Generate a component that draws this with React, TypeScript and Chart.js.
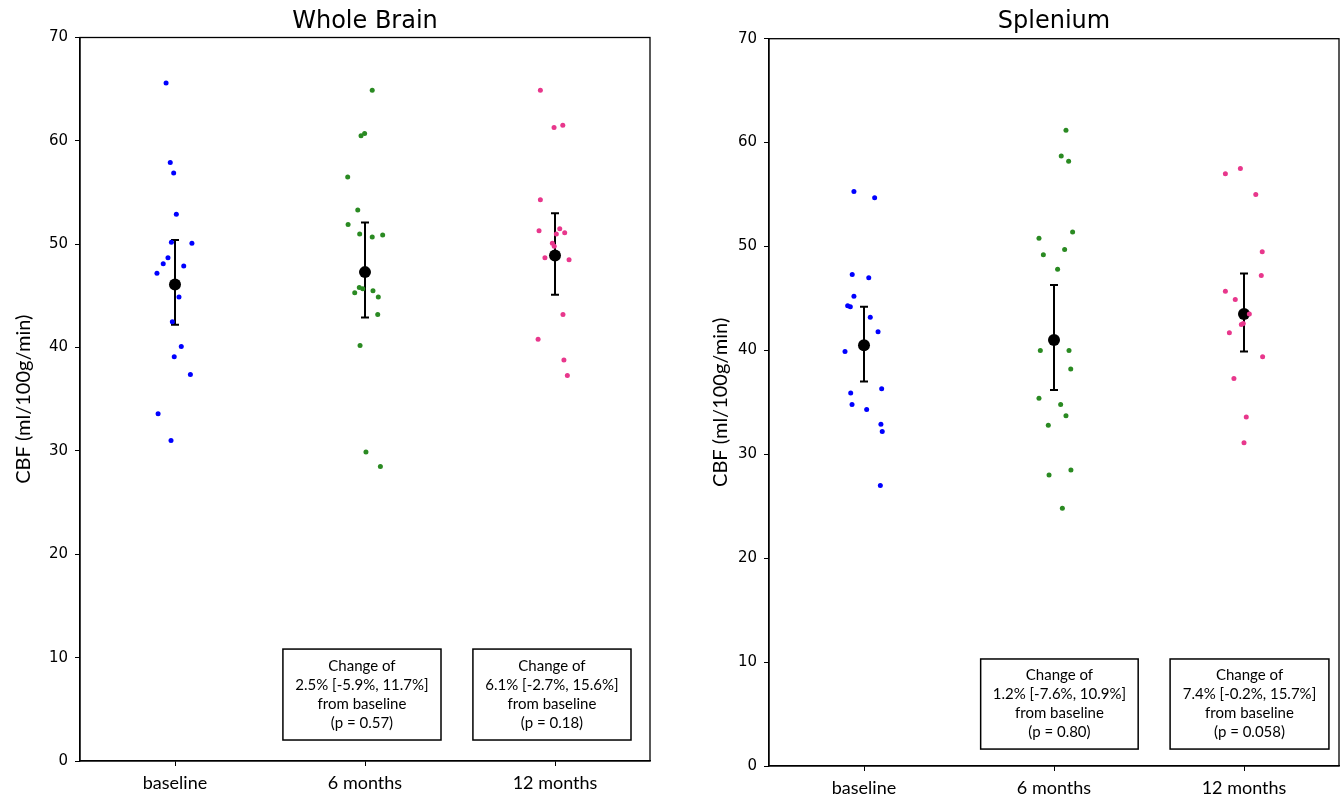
import React, { useEffect, useRef } from "react";
import { Chart, registerables } from "chart.js";
Chart.register(...registerables);

const categories = ["baseline", "6 months", "12 months"];
const yTickValues = [0, 10, 20, 30, 40, 50, 60, 70];
const yAxisLabel = "CBF (ml/100g/min)";

// ---- Whole Brain ----
const wbBaseline = [65.6, 57.9, 56.9, 52.9, 50.2, 50.1, 48.7, 48.1, 47.9, 47.2, 44.9, 42.5, 40.1, 39.1, 37.4, 33.6, 31.0];
const wbBaselineJitter = [-0.047, -0.025, -0.007, 0.007, -0.019, 0.089, -0.037, -0.062, 0.046, -0.095, 0.021, -0.014, 0.033, -0.004, 0.081, -0.089, -0.021];
const wb6m = [64.9, 60.7, 60.5, 56.5, 53.3, 51.9, 51.0, 50.7, 50.9, 45.8, 45.7, 45.3, 45.5, 44.9, 43.2, 40.2, 29.9, 28.5];
const wb6mJitter = [0.038, -0.002, -0.021, -0.091, -0.038, -0.089, -0.028, 0.038, 0.093, -0.030, -0.012, -0.054, 0.042, 0.070, 0.067, -0.026, 0.005, 0.081];
const wb12m = [64.9, 61.3, 61.5, 54.3, 51.3, 51.5, 51.0, 51.1, 50.1, 49.8, 48.7, 48.5, 43.2, 40.8, 38.8, 37.3];
const wb12mJitter = [-0.077, -0.005, 0.041, -0.077, -0.084, 0.025, 0.007, 0.051, -0.014, -0.004, -0.053, 0.074, 0.042, -0.089, 0.047, 0.065];
const wbMeans = [46.1, 47.3, 48.9];
const wbLower = [42.2, 42.9, 45.1];
const wbUpper = [50.4, 52.1, 53.0];
const wbNotes = [
  ["Change of", "2.5% [-5.9%, 11.7%]", "from baseline", "(p = 0.57)"],
  ["Change of", "6.1% [-2.7%, 15.6%]", "from baseline", "(p = 0.18)"],
];

// ---- Splenium ----
const spBaseline = [55.3, 54.7, 47.3, 47.0, 45.2, 44.3, 44.2, 43.2, 41.8, 39.9, 36.3, 35.9, 34.8, 34.3, 32.9, 32.2, 27.0];
const spBaselineJitter = [-0.053, 0.056, -0.062, 0.025, -0.053, -0.086, -0.072, 0.033, 0.074, -0.100, 0.093, -0.070, -0.063, 0.014, 0.089, 0.096, 0.086];
const sp6m = [61.2, 58.7, 58.2, 51.4, 50.8, 49.7, 49.2, 47.8, 40.0, 40.0, 38.2, 35.4, 34.8, 33.7, 32.8, 28.5, 28.0, 24.8];
const sp6mJitter = [0.063, 0.038, 0.077, 0.098, -0.079, 0.056, -0.056, 0.019, -0.072, 0.079, 0.088, -0.079, 0.035, 0.063, -0.030, 0.089, -0.026, 0.044];
const sp12m = [57.5, 57.0, 55.0, 49.5, 47.2, 45.7, 44.9, 43.5, 42.6, 42.5, 41.7, 39.4, 37.3, 33.6, 31.1];
const sp12mJitter = [-0.019, -0.098, 0.062, 0.096, 0.091, -0.098, -0.046, 0.028, -0.004, -0.014, -0.077, 0.098, -0.053, 0.012, 0.0];
const spMeans = [40.5, 41.0, 43.5];
const spLower = [37.0, 36.2, 39.9];
const spUpper = [44.2, 46.3, 47.4];
const spNotes = [
  ["Change of", "1.2% [-7.6%, 10.9%]", "from baseline", "(p = 0.80)"],
  ["Change of", "7.4% [-0.2%, 15.7%]", "from baseline", "(p = 0.058)"],
];

const groupColors = ["#0000ff", "#2a8a22", "#e8378c"];

type NoteBox = { x0: number; x1: number; top: number; bottom: number };

type PanelSpec = {
  title: string;
  groups: number[][];
  jitter: number[][];
  means: number[];
  lower: number[];
  upper: number[];
  notes: string[][];
  noteBoxes: NoteBox[];
  left: number;
  width: number;
  padRight: number;
  yAxisWidth: number;
  xAxisHeight: number;
  titleBottom: number;
  yTitlePad: number;
};

const panels: PanelSpec[] = [
  {
    title: "Whole Brain",
    groups: [wbBaseline, wb6m, wb12m],
    jitter: [wbBaselineJitter, wb6mJitter, wb12mJitter],
    means: wbMeans,
    lower: wbLower,
    upper: wbUpper,
    notes: wbNotes,
    noteBoxes: [
      { x0: 0.568, x1: 1.4, top: 10.83, bottom: 2.03 },
      { x0: 1.568, x1: 2.4, top: 10.83, bottom: 2.03 },
    ],
    left: 0,
    width: 700,
    padRight: 50,
    yAxisWidth: 80,
    xAxisHeight: 35,
    titleBottom: 1.7,
    yTitlePad: 12,
  },
  {
    title: "Splenium",
    groups: [spBaseline, sp6m, sp12m],
    jitter: [spBaselineJitter, sp6mJitter, sp12mJitter],
    means: spMeans,
    lower: spLower,
    upper: spUpper,
    notes: spNotes,
    noteBoxes: [
      { x0: 0.614, x1: 1.443, top: 10.3, bottom: 1.63 },
      { x0: 1.611, x1: 2.447, top: 10.3, bottom: 1.63 },
    ],
    left: 700,
    width: 641,
    padRight: 2,
    yAxisWidth: 69,
    xAxisHeight: 30,
    titleBottom: 2.9,
    yTitlePad: 9,
  },
];

const decorPlugin = {
  id: "decor",
  beforeDatasetDraw(chart: any, args: any) {
    const ds = chart.data.datasets[args.index];
    if (!ds.errLower) return;
    const xs = chart.scales.x;
    const ys = chart.scales.y;
    const ctx = chart.ctx;
    ctx.save();
    ctx.strokeStyle = "#000";
    ctx.lineWidth = 2;
    ds.errLower.forEach((lo: number, i: number) => {
      const hi = ds.errUpper[i];
      const x = xs.getPixelForValue(i);
      const y0 = ys.getPixelForValue(lo);
      const y1 = ys.getPixelForValue(hi);
      ctx.beginPath();
      ctx.moveTo(x, y0);
      ctx.lineTo(x, y1);
      ctx.moveTo(x - 4, y0);
      ctx.lineTo(x + 4, y0);
      ctx.moveTo(x - 4, y1);
      ctx.lineTo(x + 4, y1);
      ctx.stroke();
    });
    ctx.restore();
  },
  afterDraw(chart: any) {
    const ctx = chart.ctx;
    const a = chart.chartArea;
    const opts = chart.options.plugins.decor;
    const xs = chart.scales.x;
    const ys = chart.scales.y;
    ctx.save();
    (opts.boxes as NoteBox[]).forEach((b, i) => {
      const x0 = xs.getPixelForValue(b.x0);
      const x1 = xs.getPixelForValue(b.x1);
      const y0 = ys.getPixelForValue(b.top);
      const y1 = ys.getPixelForValue(b.bottom);
      ctx.fillStyle = "#fff";
      ctx.fillRect(x0, y0, x1 - x0, y1 - y0);
      ctx.strokeStyle = "#000";
      ctx.lineWidth = 1.5;
      ctx.strokeRect(x0, y0, x1 - x0, y1 - y0);
      const lines: string[] = opts.notes[i];
      const lh = 19;
      const cx = (x0 + x1) / 2;
      const cy = (y0 + y1) / 2;
      ctx.fillStyle = "#000";
      ctx.font = "15px Lato";
      ctx.textAlign = "center";
      ctx.textBaseline = "middle";
      lines.forEach((t, k) => {
        ctx.fillText(t, cx, cy + (k - (lines.length - 1) / 2) * lh);
      });
    });
    ctx.strokeStyle = "#000";
    ctx.lineWidth = 1.3;
    ctx.strokeRect(a.left, a.top, a.right - a.left, a.bottom - a.top);
    ctx.restore();
  },
};

function Panel({ spec }: { spec: PanelSpec }) {
  const ref = useRef<HTMLCanvasElement>(null);
  useEffect(() => {
    const datasets: any[] = spec.groups.map((vals, gi) => ({
      type: "scatter",
      data: vals.map((v, k) => ({ x: gi + spec.jitter[gi][k], y: v })),
      backgroundColor: groupColors[gi],
      borderWidth: 0,
      pointRadius: 2.5,
      pointHoverRadius: 2.5,
    }));
    datasets.push({
      type: "scatter",
      data: spec.means.map((m, i) => ({ x: i, y: m })),
      backgroundColor: "#000",
      borderWidth: 0,
      pointRadius: 6,
      pointHoverRadius: 6,
      errLower: spec.lower,
      errUpper: spec.upper,
    });
    const chart = new Chart(ref.current as HTMLCanvasElement, {
      type: "scatter",
      data: { datasets },
      options: {
        responsive: false,
        animation: false,
        events: [],
        layout: { autoPadding: false, padding: { left: 0, right: spec.padRight, top: 0, bottom: 0 } },
        plugins: {
          legend: { display: false },
          tooltip: { enabled: false },
          title: {
            display: true,
            text: spec.title,
            fullSize: false,
            color: "#000",
            font: { family: "DejaVu Sans", size: 24, weight: "normal" },
            padding: { top: 7, bottom: spec.titleBottom },
          },
          decor: { boxes: spec.noteBoxes, notes: spec.notes },
        } as any,
        scales: {
          x: {
            type: "linear",
            min: -0.5,
            max: 2.5,
            afterBuildTicks: (s: any) => {
              s.ticks = categories.map((_, i) => ({ value: i }));
            },
            afterFit: (s: any) => {
              s.height = spec.xAxisHeight;
              s.paddingLeft = 0;
              s.paddingRight = 0;
            },
            ticks: {
              autoSkip: false,
              maxRotation: 0,
              color: "#000",
              font: { family: "Lato", size: 18 },
              padding: 6,
              callback: (v: any) => categories[Math.round(Number(v))],
            },
            grid: { drawOnChartArea: false, drawTicks: true, tickLength: 5, color: "#000" },
            border: { display: true, color: "#000", width: 1.3 },
          },
          y: {
            type: "linear",
            min: 0,
            max: 70,
            afterBuildTicks: (s: any) => {
              s.ticks = yTickValues.map((v) => ({ value: v }));
            },
            afterFit: (s: any) => {
              s.width = spec.yAxisWidth;
            },
            ticks: {
              color: "#000",
              font: { family: "DejaVu Sans", size: 15 },
              padding: 7,
              callback: (v: any) => String(v),
            },
            title: {
              display: true,
              text: yAxisLabel,
              color: "#000",
              font: { family: "Lato", size: 20 },
              padding: { top: spec.yTitlePad, bottom: 0 },
            },
            grid: { drawOnChartArea: false, drawTicks: true, tickLength: 5, color: "#000" },
            border: { display: true, color: "#000", width: 1.3 },
          },
        },
      } as any,
      plugins: [decorPlugin],
    });
    return () => chart.destroy();
  }, [spec]);
  return (
    <canvas
      ref={ref}
      width={spec.width}
      height={796}
      style={{ position: "absolute", left: spec.left, top: 0, width: spec.width, height: 796 }}
    />
  );
}

export default function App() {
  return (
    <div style={{ position: "fixed", left: 0, top: 0, width: 1341, height: 796, background: "#fff", overflow: "hidden" }}>
      {panels.map((p) => (
        <Panel key={p.title} spec={p} />
      ))}
    </div>
  );
}
